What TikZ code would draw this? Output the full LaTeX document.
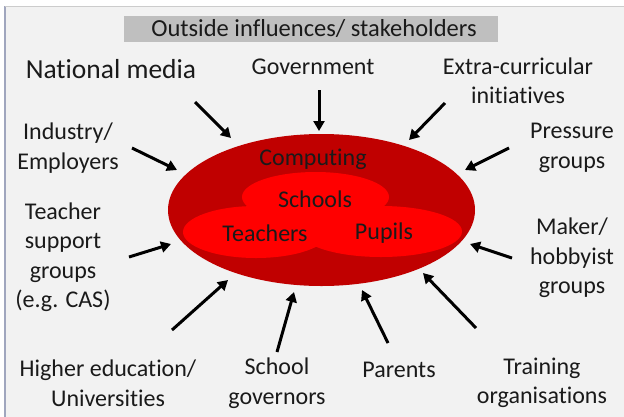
\documentclass[tikz,border=0pt]{standalone}
\usepackage{fontspec}
\setmainfont{Carlito}[Ligatures=NoCommon]
\usetikzlibrary{arrows.meta}
\definecolor{bgc}{HTML}{F2F2F2}
\definecolor{framec}{HTML}{A0A6BE}
\definecolor{titlec}{HTML}{BFBFBF}
\definecolor{darkred}{HTML}{C00000}
\definecolor{brightred}{HTML}{FF0000}
\definecolor{txt}{HTML}{1A1A1A}
\tikzset{
  lbl/.style={text=txt, align=center, inner sep=0pt, font=\fontsize{24}{29.5}\selectfont},
  inlbl/.style={text=txt, inner sep=0pt, font=\fontsize{24}{29}\selectfont},
  infl/.style={line width=3pt, -{Triangle[length=10pt,width=11pt]}, black}
}
\begin{document}
\begin{tikzpicture}[x=1pt,y=-1pt]
\useasboundingbox (0,0) rectangle (624,416);
\fill[white] (0,0) rectangle (624,416);
\fill[bgc] (5,6) rectangle (624,420);
\draw[framec, line width=1.5pt] (5,420) -- (5,6);
\draw[gray!40, line width=0.8pt] (5,6) -- (624,6);
% title
\node[fill=titlec, minimum width=374pt, minimum height=26pt, inner sep=0pt] (title) at (311,29) {};
\node[text=txt, inner sep=0pt, font=\fontsize{24.5}{29}\selectfont] (titletext) at (314,29) {Outside influences/ stakeholders};
% ellipses
\fill[darkred] (321.5,210) ellipse [x radius=153.5, y radius=76];
\fill[brightred] (315.5,197) ellipse [x radius=73.5, y radius=25];
\fill[brightred] (256,232) ellipse [x radius=73, y radius=26];
\fill[brightred] (381,231.5) ellipse [x radius=81, y radius=25.5];
\node[inlbl] (computing) at (313,159) {Computing};
\node[inlbl] (schools) at (315,199) {Schools};
\node[inlbl] (teachers) at (265,233) {Teachers};
\node[inlbl] (pupils) at (384,233) {Pupils};
% labels
\node[lbl, font=\fontsize{27.5}{32}\selectfont] (media) at (111,69) {National media};
\node[lbl] (gov) at (313,67) {Government};
\node[lbl] (extra) at (518,81) {Extra-curricular\\initiatives};
\node[lbl] (industry) at (68,148) {Industry/\\Employers};
\node[lbl] (pressure) at (572,148) {Pressure\\groups};
\node[lbl] (tsupport) at (63,257) {Teacher\\support\\groups\\(e.g. CAS)};
\node[lbl] (maker) at (572,258) {Maker/\\hobbyist\\groups};
\node[lbl] (higher) at (108,383) {Higher education/\\Universities};
\node[lbl] (govern) at (277,383) {School\\governors};
\node[lbl] (parents) at (399,370) {Parents};
\node[lbl] (training) at (542,383) {Training\\organisations};
% arrow coordinates
\coordinate (a1s) at (195,102); \coordinate (a1e) at (231,138);
\coordinate (a2s) at (319,90);  \coordinate (a2e) at (319,131);
\coordinate (a3s) at (445,103); \coordinate (a3e) at (409,140);
\coordinate (a4s) at (132,148); \coordinate (a4e) at (177,170);
\coordinate (a5s) at (509,148); \coordinate (a5e) at (465,170);
\coordinate (a6s) at (129,257); \coordinate (a6e) at (171,244);
\coordinate (a7s) at (512,258); \coordinate (a7e) at (470,244);
\coordinate (a8s) at (172,330); \coordinate (a8e) at (228,280);
\coordinate (a9s) at (277,352); \coordinate (a9e) at (294,292);
\coordinate (a10s) at (388,343); \coordinate (a10e) at (362,290);
\coordinate (a11s) at (476,328); \coordinate (a11e) at (423,273);
\foreach \i in {1,...,11} {\draw[infl] (a\i s) -- (a\i e);}
\end{tikzpicture}
\end{document}
